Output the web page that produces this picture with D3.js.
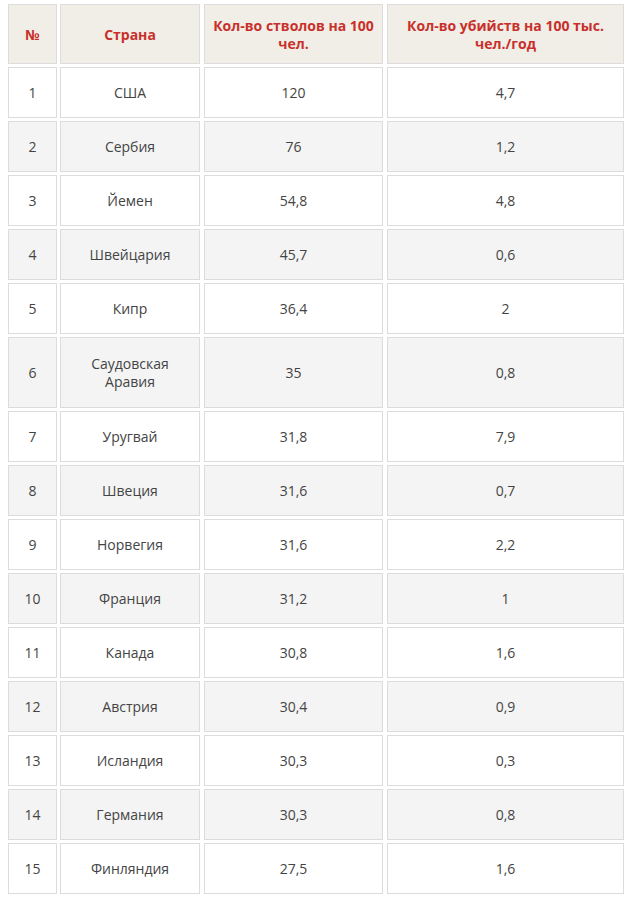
<!DOCTYPE html>
<html><head><meta charset="utf-8">
<script src="https://cdn.jsdelivr.net/npm/d3@7"></script>
<style>body{margin:0;background:#fff}</style>
</head><body><svg id="c" width="630" height="900"></svg>
<script>
const headers = ["№","Страна","Кол-во стволов на 100|чел.","Кол-во убийств на 100 тыс.|чел./год"];
const ranks = ["1","2","3","4","5","6","7","8","9","10","11","12","13","14","15"];
const countries = ["США","Сербия","Йемен","Швейцария","Кипр","Саудовская|Аравия","Уругвай","Швеция","Норвегия","Франция","Канада","Австрия","Исландия","Германия","Финляндия"];
const guns = ["120","76","54,8","45,7","36,4","35","31,8","31,6","31,6","31,2","30,8","30,4","30,3","30,3","27,5"];
const murders = ["4,7","1,2","4,8","0,6","2","0,8","7,9","0,7","2,2","1","1,6","0,9","0,3","0,8","1,6"];

const svg = d3.select("#c");
const colX = [8,60,204,387], colW = [49,140,179,237];
const gap = 3;
const rows = [{cells:headers, h:60, head:true}].concat(ranks.map((r,i)=>({cells:[r,countries[i],guns[i],murders[i]], h: countries[i].includes("|")?71:51, idx:i})));
let y = 4;
rows.forEach(r=>{ r.y=y; y += r.h+gap; });
const font = "'Open Sans', 'Noto Sans', sans-serif";
const g = svg.selectAll("g.row").data(rows).join("g").attr("class","row")
  .attr("transform", d=>`translate(0,${d.y})`);
g.each(function(r){
  const gg = d3.select(this);
  r.cells.forEach((t,j)=>{
    gg.append("rect").attr("x",colX[j]+0.5).attr("y",0.5).attr("width",colW[j]-1).attr("height",r.h-1)
      .attr("fill", r.head ? "#f1eee7" : (r.idx%2 ? "#f4f4f4" : "#ffffff"))
      .attr("stroke","#dcdcdc").attr("stroke-width",1);
    const lines = t.split("|");
    const lh = 18;
    const y0 = r.h/2 - (lines.length-1)*lh/2;
    lines.forEach((l,k)=>{
      gg.append("text").attr("x",colX[j]+colW[j]/2).attr("y",y0+k*lh)
        .attr("text-anchor","middle").attr("dominant-baseline","central")
        .attr("font-family",font).attr("font-size",14)
        .attr("font-weight", r.head?700:400)
        .attr("fill", r.head?"#c8302c":"#444").text(l);
    });
  });
});
</script></body></html>
